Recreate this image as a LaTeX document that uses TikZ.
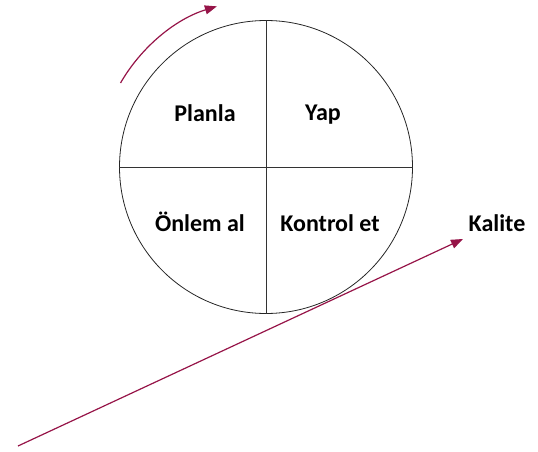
\documentclass[tikz,border=0pt]{standalone}
\usepackage{fontspec}
\setsansfont{Carlito}
\usetikzlibrary{arrows.meta}
\definecolor{pdcared}{RGB}{150,20,72}

\begin{document}
\begin{tikzpicture}[x=1pt, y=1pt, >={Triangle[length=12pt, width=9pt]},
  lab/.style={font=\fontsize{24}{28}\selectfont\sffamily\bfseries, inner sep=0pt},
  ring/.style={circle, draw=black!85, line width=0.8pt, minimum size=293pt, inner sep=0pt},
  cut/.style={draw=black!80, line width=0.8pt},
  flow/.style={draw=pdcared, line width=1.2pt, ->}]
  \useasboundingbox (0,0) rectangle (538,451);
  % the cycle
  \node[ring] (cyc) at (266,284) {};
  \draw[cut] (cyc.north) -- (cyc.south);
  \draw[cut] (cyc.west) -- (cyc.east);
  \node[lab] (plan) at (205,338) {Planla};
  \node[lab] (yap)  at (323,336) {Yap};
  \node[lab] (onlem) at (200,229) {Önlem al};
  \node[lab] (kontrol) at (330,228) {Kontrol et};
  % rotation arrow
  \draw[flow] (cyc.center) ++(150:168) arc[start angle=150, end angle=107, radius=168];
  % quality slope
  \node[lab] (kal) at (497,228) {Kalite};
  \coordinate (s0) at (18,5);
  \coordinate (s1) at (463,212);
  \draw[flow] (s0) -- (s1);
\end{tikzpicture}
\end{document}
